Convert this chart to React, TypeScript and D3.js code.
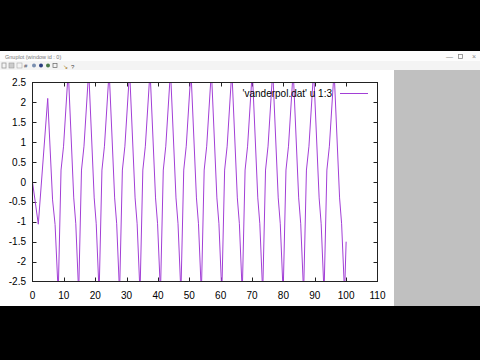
import React from "react";
import * as d3 from "d3";

const xTicks = [0, 10, 20, 30, 40, 50, 60, 70, 80, 90, 100, 110];
const yTicks = [-2.5, -2, -1.5, -1, -0.5, 0, 0.5, 1, 1.5, 2, 2.5];
const legendLabel = "'vanderpol.dat' u 1:3";
const windowTitle = "Gnuplot (window id : 0)";

const tVals = [
  0, 1.85, 4.85, 6.4, 7.2,
  8.2, 9.1, 9.9, 11.4, 13.15, 13.8,
  14.72, 15.62, 16.42, 17.92, 19.67, 20.32,
  21.24, 22.14, 22.94, 24.44, 26.19, 26.84,
  27.76, 28.66, 29.46, 30.96, 32.71, 33.36,
  34.28, 35.18, 35.98, 37.48, 39.23, 39.88,
  40.8, 41.7, 42.5, 44.0, 45.75, 46.4,
  47.32, 48.22, 49.02, 50.52, 52.27, 52.92,
  53.84, 54.74, 55.54, 57.04, 58.79, 59.44,
  60.36, 61.26, 62.06, 63.56, 65.31, 65.96,
  66.88, 67.78, 68.58, 70.08, 71.83, 72.48,
  73.4, 74.3, 75.1, 76.6, 78.35, 79.0,
  79.92, 80.82, 81.62, 83.12, 84.87, 85.52,
  86.44, 87.34, 88.14, 89.64, 91.39, 92.04,
  92.96, 93.86, 94.66, 96.16, 97.91, 98.56,
  99.5, 100,
];

const yVals = [
  0, -1.06, 2.1, -0.45, -1.07,
  -2.8, 0.3, 0.9, 2.8, -0.4, -1.05,
  -2.8, 0.3, 0.9, 2.8, -0.4, -1.05,
  -2.8, 0.3, 0.9, 2.8, -0.4, -1.05,
  -2.8, 0.3, 0.9, 2.8, -0.4, -1.05,
  -2.8, 0.3, 0.9, 2.8, -0.4, -1.05,
  -2.8, 0.3, 0.9, 2.8, -0.4, -1.05,
  -2.8, 0.3, 0.9, 2.8, -0.4, -1.05,
  -2.8, 0.3, 0.9, 2.8, -0.4, -1.05,
  -2.8, 0.3, 0.9, 2.8, -0.4, -1.05,
  -2.8, 0.3, 0.9, 2.8, -0.4, -1.05,
  -2.8, 0.3, 0.9, 2.8, -0.4, -1.05,
  -2.8, 0.3, 0.9, 2.8, -0.4, -1.05,
  -2.8, 0.3, 0.9, 2.8, -0.4, -1.05,
  -2.8, 0.3, 0.9, 2.8, -0.4, -1.05,
  -2.8, -1.5,
];

export default function App() {
  const W = 480, H = 360;
  const left = 32.5, right = 377.5, top = 82.5, bottom = 281.5;
  const x = d3.scaleLinear().domain([0, 110]).range([left, right]);
  const y = d3.scaleLinear().domain([-2.5, 2.5]).range([bottom, top]);
  const pts: [number, number][] = tVals.map((t, i) => [t, yVals[i]]);
  const line = d3
    .line<[number, number]>()
    .x((d) => x(d[0]))
    .y((d) => y(d[1]));
  const font = "'Liberation Sans', Arial, sans-serif";
  const tickLen = 4;
  const purple = "#a23fd6";

  return (
    <svg
      width={W}
      height={H}
      style={{ position: "fixed", left: 0, top: 0, display: "block" }}
      xmlns="http://www.w3.org/2000/svg"
    >
      <rect x={0} y={0} width={W} height={H} fill="#000" />
      {/* window */}
      <rect x={0} y={51} width={W} height={255} fill="#fff" />
      <rect x={0} y={51} width={W} height={10} fill="#fdfdfd" />
      <text x={5} y={58.5} fontSize={5.5} fill="#777" fontFamily={font}>
        {windowTitle}
      </text>
      <text x={446} y={59} fontSize={7} fill="#888" fontFamily={font}>—</text>
      <rect x={458.5} y={54.5} width={4} height={4} fill="none" stroke="#888" strokeWidth={0.8} />
      <text x={472} y={59} fontSize={7} fill="#888" fontFamily={font}>×</text>
      <rect x={0} y={61} width={W} height={9} fill="#f4f4f4" />
      {/* toolbar icons */}
      <rect x={2} y={63} width={4} height={5} fill="none" stroke="#999" strokeWidth={0.8} />
      <rect x={9} y={63} width={5} height={5} fill="#ccc" stroke="#999" strokeWidth={0.6} />
      <rect x={17} y={63} width={5} height={5} fill="none" stroke="#aaa" strokeWidth={0.6} />
      <text x={24} y={68} fontSize={6} fill="#556" fontFamily={font}>#</text>
      <circle cx={34} cy={65.5} r={2} fill="#7a8fb0" />
      <circle cx={41} cy={65.5} r={2} fill="#2b3f80" />
      <circle cx={48} cy={65.5} r={2} fill="#4a7a4a" />
      <rect x={53} y={63.5} width={4} height={4} fill="none" stroke="#666" strokeWidth={0.7} />
      <text x={63} y={68.5} fontSize={6} fill="#a07010" fontFamily={font}>↘</text>
      <text x={71} y={68.5} fontSize={6} fill="#444" fontFamily={font}>?</text>
      {/* grey side panel */}
      <rect x={394} y={70} width={86} height={236} fill="#c0c0c0" />
      <rect x={394} y={306} width={86} height={54} fill="#000" />

      <defs>
        <clipPath id="plotclip">
          <rect x={left} y={top} width={right - left} height={bottom - top} />
        </clipPath>
      </defs>

      {/* ticks */}
      {xTicks.map((t) => (
        <g key={"xt" + t}>
          {t > 0 && t < 110 && (
            <>
              <line x1={Math.round(x(t)) + 0.5} x2={Math.round(x(t)) + 0.5} y1={bottom} y2={bottom - tickLen} stroke="#222" strokeWidth={1} />
              <line x1={Math.round(x(t)) + 0.5} x2={Math.round(x(t)) + 0.5} y1={top} y2={top + tickLen} stroke="#222" strokeWidth={1} />
            </>
          )}
          <text x={x(t)} y={299} fontSize={10} textAnchor="middle" fill="#000" fontFamily={font}>
            {t}
          </text>
        </g>
      ))}
      {yTicks.map((t) => (
        <g key={"yt" + t}>
          {t > -2.5 && t < 2.5 && (
            <>
              <line x1={left} x2={left + tickLen} y1={Math.round(y(t)) + 0.5} y2={Math.round(y(t)) + 0.5} stroke="#222" strokeWidth={1} />
              <line x1={right} x2={right - tickLen} y1={Math.round(y(t)) + 0.5} y2={Math.round(y(t)) + 0.5} stroke="#222" strokeWidth={1} />
            </>
          )}
          <text x={26} y={y(t) + 3.5} fontSize={10} textAnchor="end" fill="#000" fontFamily={font}>
            {t}
          </text>
        </g>
      ))}

      {/* curve */}
      <path
        d={line(pts) || ""}
        fill="none"
        stroke={purple}
        strokeWidth={1}
        clipPath="url(#plotclip)"
      />

      {/* frame */}
      <rect x={left} y={top} width={right - left} height={bottom - top} fill="none" stroke="#222" strokeWidth={1} />

      {/* legend */}
      <text x={332} y={97} fontSize={10} textAnchor="end" fill="#000" fontFamily={font}>
        {legendLabel}
      </text>
      <line x1={340} x2={368} y1={93.5} y2={93.5} stroke={purple} strokeWidth={1} />
    </svg>
  );
}
